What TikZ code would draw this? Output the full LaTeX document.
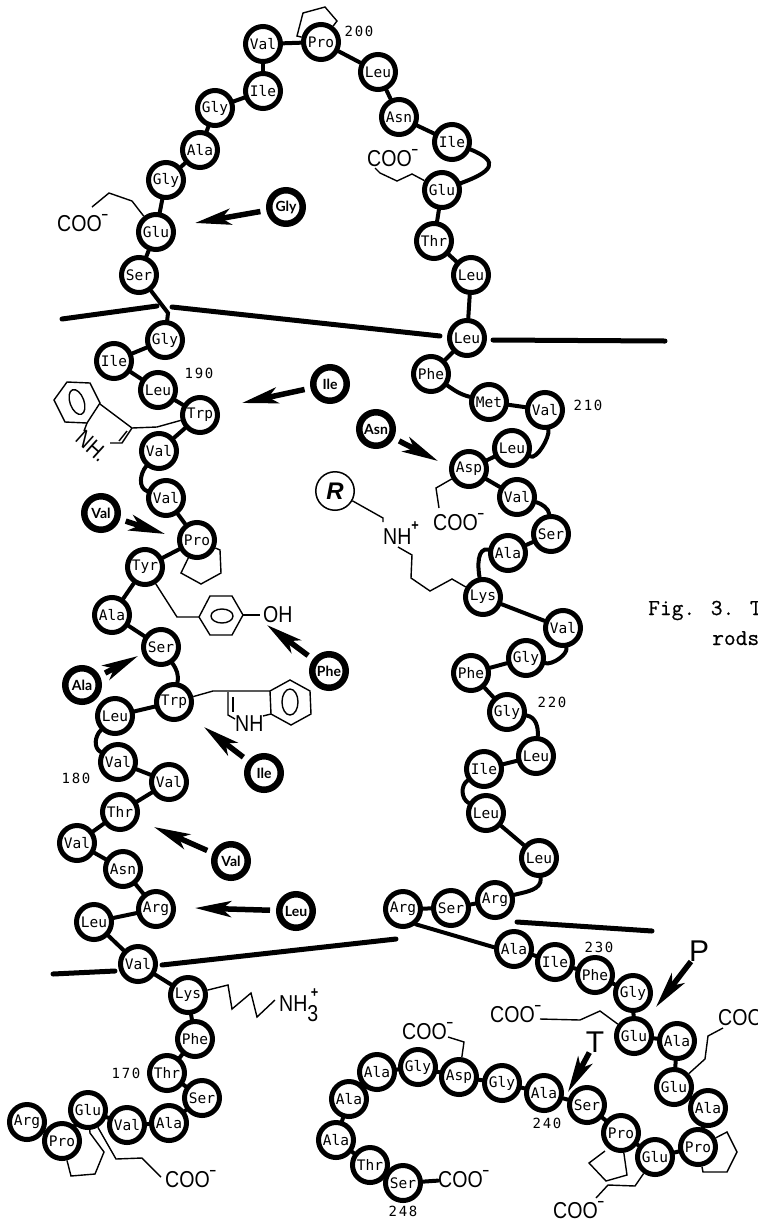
\documentclass[tikz,border=0pt]{standalone}
\usepackage{fontspec}
\setmainfont{Liberation Sans}
\newfontfamily\chemfont[FakeStretch=0.85]{Liberation Sans}
\newfontfamily\aafont{DejaVu Sans Mono}
\newfontfamily\freefont{Lato}
\newfontfamily\numfont[LetterSpace=12]{DejaVu Sans Mono}
\newfontfamily\capfont[FakeBold=0.6]{Latin Modern Mono}
\usetikzlibrary{arrows.meta,backgrounds}
\newcommand{\minusup}{\raisebox{.5em}{\bfseries\fontsize{13}{13}\selectfont −}}
\newcommand{\coolab}{COO\minusup}
\tikzset{
  x=1pt,y=-1pt,
  aa/.style={circle,draw,line width=5pt,fill=white,minimum size=35pt,inner sep=0pt,font=\aafont\fontsize{14.5}{14.5}\selectfont},
  sub/.style={circle,draw,line width=6.5pt,fill=white,minimum size=33.5pt,inner sep=0pt,font=\freefont\bfseries\fontsize{14}{14}\selectfont},
  rgroup/.style={circle,draw,line width=1.5pt,fill=white,minimum size=38.5pt,inner sep=0pt,font=\bfseries\itshape\fontsize{24}{24}\selectfont},
  bond/.style={line width=4pt,line cap=round},
  side/.style={line width=1.4pt,line join=miter},
  wall/.style={line width=5pt,line cap=round},
  mut/.style={line width=5.5pt,-{Stealth[length=36pt,width=16pt,inset=9pt]},shorten <=6pt},
  chem/.style={anchor=base west,inner sep=0pt,font=\chemfont\fontsize{23}{23}\selectfont},
  num/.style={inner sep=0pt,font=\numfont\fontsize{14}{14}\selectfont},
  site/.style={inner sep=0pt,font=\fontsize{30}{30}\selectfont},
  figcap/.style={anchor=base west,inner sep=0pt,font=\capfont\fontsize{22.8}{22.8}\selectfont}
}
\begin{document}
\begin{tikzpicture}
\useasboundingbox (0,0) rectangle (758,1219);
% residues
\foreach \n/\t/\x/\y in {
 r164/Arg/27/1122, r165/Pro/62/1141, r166/Glu/88/1110, r167/Val/127/1125, r168/Ala/169/1123,
 r169/Ser/202/1098, r170/Thr/167/1073, r171/Phe/195/1039, r172/Lys/188/995, r173/Val/138/964,
 r174/Leu/94/922, r175/Arg/156/909, r176/Asn/123/869, r177/Val/77/843, r178/Thr/120/812,
 r179/Val/169/782, r180/Val/118/762, r181/Leu/115/716, r182/Trp/174/702, r183/Ser/161/647,
 r184/Ala/112/615, r185/Tyr/145/567, r186/Pro/197/540, r187/Val/166/498, r188/Val/159/451,
 r189/Trp/200/415, r190/Leu/158/390, r191/Ile/114/361, r192/Gly/165/340, r193/Ser/139/275,
 r194/Glu/156/232, r195/Gly/166/180, r196/Ala/200/150, r197/Gly/215/108, r198/Ile/263/91,
 r199/Val/263/44, r200/Pro/321/42, r201/Leu/378/72, r202/Asn/399/117, r203/Ile/452/142,
 r204/Glu/442/190, r205/Thr/434/241, r206/Leu/471/275, r207/Leu/467/338, r208/Phe/431/374,
 r209/Met/489/402, r210/Val/545/410, r211/Leu/512/448, r212/Asp/469/469, r213/Val/517/497,
 r214/Ser/551/534, r215/Ala/508/553, r216/Lys/483/597, r217/Val/563/628, r218/Gly/526/658,
 r219/Phe/471/673, r220/Gly/507/712, r221/Leu/536/756, r222/Ile/484/769, r223/Leu/486/813,
 r224/Leu/539/858, r225/Arg/495/900, r226/Ser/451/908, r227/Arg/403/909, r228/Ala/514/949,
 r229/Ile/555/962, r230/Phe/595/975, r231/Gly/633/993, r232/Glu/634/1036, r233/Ala/677/1041,
 r234/Glu/674/1087, r235/Ala/708/1108, r236/Pro/698/1147, r237/Glu/655/1157, r238/Pro/621/1133,
 r239/Ser/587/1105, r240/Ala/544/1093, r241/Gly/502/1083, r242/Asp/459/1077, r243/Gly/418/1067,
 r244/Ala/377/1072, r245/Ala/349/1099, r246/Ala/336/1140, r247/Thr/370/1165, r248/Ser/403/1183}
 {\node[aa] (\n) at (\x,\y) {\t};}
% substituted residues
\foreach \n/\t/\x/\y in {
 sGly/Gly/286/207, sIleA/Ile/330/384, sAsn/Asn/376/429, sValA/Val/101/513, sAla/Ala/82/685,
 sPhe/Phe/329/671, sIleB/Ile/264/773, sValB/Val/231/861, sLeu/Leu/296/911}
 {\node[sub] (\n) at (\x,\y) {\t};}
\node[rgroup] (R) at (335,491) {R};
% chemical labels
\node[chem] (cooA) at (57,231) {\coolab};
\node[chem] (cooB) at (367,166) {\coolab};
\node[chem] (cooC) at (433,530) {\coolab};
\node[chem] (cooD) at (165,1187) {\coolab};
\node[chem] (cooE) at (490,1022) {\coolab};
\node[chem] (cooF) at (718,1025) {\coolab};
\node[chem] (cooG) at (402,1039) {\coolab};
\node[chem] (cooH) at (438,1187) {\coolab};
\node[chem] (cooI) at (553,1218) {\coolab};
\node[chem] (nhLys) at (383,544) {NH\raisebox{.6em}{\fontsize{15}{15}\selectfont\bfseries +}};
\node[chem] (oh) at (263,622) {OH};
\node[chem] (nhTrp) at (235,731) {NH};
\node[chem,anchor=center,rotate=-42] (nhTrpB) at (92,446) {NH.};
\node[chem] (nhThree) at (279,1011) {NH\rlap{\raisebox{-.45em}{3}}\raisebox{.6em}{\fontsize{15}{15}\selectfont\bfseries\ +}};
\node[site] (P) at (699,951) {P};
\node[site] (T) at (595,1042) {T};
% residue numbers
\foreach \n/\t/\x/\y in {n170/170/126/1073, n180/180/76/778, n190/190/199/373, n200/200/359/31,
 n210/210/588/405, n220/220/552/702, n230/230/599/947, n240/240/547/1123, n248/248/403/1211}
 {\node[num] (\n) at (\x,\y) {\t};}
\node[figcap] (figA) at (648,615) {Fig. 3. T};
\node[figcap] (figB) at (712,645) {rods};
% tips of the arrows
\foreach \n/\x/\y in {tGly/195/223, tIleA/242/403, tAsn/438/461, tValA/165/534, tAla/138/656,
 tPhe/267/625, tIleB/204/727, tValB/154/827, tLeu/195/908, tP/656/1007, tT/568/1092}
 {\coordinate (\n) at (\x,\y);}
\foreach \a/\b in {sGly/tGly, sIleA/tIleA, sAsn/tAsn, sValA/tValA, sAla/tAla, sPhe/tPhe, sIleB/tIleB, sValB/tValB, sLeu/tLeu}
 {\draw[mut] (\a) -- (\b);}
\draw[mut,shorten <=0pt] (P) -- (tP);
\draw[mut,shorten <=0pt] (T) -- (tT);
% helix boundary lines
\foreach \n/\x/\y in {wA/62/319, wB/157/306, wC/172/307, wD/440/336, wE/493/340, wF/665/341,
 wG/53/974, wH/115/971, wI/162/965, wJ/396/939, wK/517/922, wL/652/931}
 {\coordinate (\n) at (\x,\y);}
\foreach \a/\b in {wA/wB, wC/wD, wE/wF, wG/wH, wI/wJ, wK/wL} {\draw[wall] (\a) -- (\b);}
\begin{scope}[on background layer]
% backbone
\foreach \a/\b in {r164/r165,r165/r166,r166/r167,r167/r168,r168/r169,r169/r170,r170/r171,r171/r172,
 r172/r173,r173/r174,r174/r175,r175/r176,r176/r177,r177/r178,r178/r179,r179/r180,r181/r182,
 r183/r184,r184/r185,r185/r186,r186/r187,r188/r189,r189/r190,r190/r191,r191/r192,r193/r194,
 r194/r195,r195/r196,r196/r197,r197/r198,r198/r199,r199/r200,r200/r201,r201/r202,r202/r203,
 r204/r205,r205/r206,r206/r207,r207/r208,r209/r210,r211/r212,r212/r213,r214/r215,r216/r217,
 r218/r219,r219/r220,r221/r222,r223/r224,r225/r226,r226/r227,r228/r229,r229/r230,
 r230/r231,r231/r232,r232/r233,r233/r234,r234/r235,r235/r236,r236/r237,r237/r238,r238/r239,
 r239/r240,r240/r241,r241/r242,r242/r243,r243/r244,r244/r245,r245/r246,r246/r247,r247/r248}
 {\draw[bond] (\a) -- (\b);}
\draw[bond] (r227.-50) -- (r228.175);
\draw[bond] (r181) to[out=225,in=150] (r180);
\draw[bond] (r183) to[out=-55,in=80] (r182);
\draw[bond] (r188) to[out=230,in=160] (r187);
\draw[bond] (r193) -- (168,313) -- (r192);
\draw[bond] (r203) to[out=-22,in=20,looseness=2.4] (r204);
\draw[bond] (r208) to[out=-35,in=165] (r209);
\draw[bond] (r210) to[out=-80,in=-25,looseness=.6] (r211);
\draw[bond] (r213) to[out=-15,in=95,looseness=.8] (r214);
\draw[bond] (r215) to[out=170,in=100] (r216);
\draw[bond] (r217) to[out=-80,in=-15,looseness=.7] (r218);
\draw[bond] (r220) to[out=-10,in=85] (r221);
\draw[bond] (r222) to[out=215,in=150] (r223);
\draw[bond] (r224) to[out=-85,in=15] (r225);
\draw[bond] (r248) -- (cooH);
% side chains
\draw[side] (r200) -- (297,36) -- (303,13) -- (325,7) -- (337,21) -- (r200);
\draw[side] (r194) -- (132,201) -- (109,193) -- (92,207);
\draw[side] (r204) -- (412,174) -- (397,181) -- (380,173) -- (375,168);
\draw[side] (r189) -- (157,427) -- (132,428) -- (100,404);
\draw[side] (132,428) -- (122,443) -- (110,443);
\draw[side] (127,431) -- (119,441);
\draw[side] (67,382) -- (90,383) -- (100,403) -- (87,423) -- (65,422) -- (54,400) -- cycle;
\draw[side] (87,423) -- (84,431);
\draw[side] (77,402) ellipse[x radius=7,y radius=13,rotate=20];
\draw[side] (r186) -- (220,550) -- (221,573) -- (201,584) -- (181,573) -- (r186);
\draw[side] (r185) -- (177,617) -- (199,617) -- (210,596) -- (232,596) -- (243,615) -- (232,635) -- (210,635) -- (199,617);
\draw[side] (243,615) -- (260,615);
\draw[side] (222,616) ellipse[x radius=11,y radius=7];
\draw[side] (r182) -- (213,691) -- (270,691) -- (290,680) -- (310,691) -- (311,714) -- (291,725) -- (271,714) -- (270,691);
\draw[side] (271,714) -- (263,716);
\draw[side] (228,692) -- (228,715) -- (235,719);
\draw[side] (233,697) -- (233,712);
\draw[side] (290,702) ellipse[x radius=8,y radius=13];
\draw[side] (R) -- (383,518) -- (383,522);
\draw[side] (398,547) -- (412,555) -- (411,578) -- (430,591) -- (452,579) -- (r216);
\draw[side] (r212) -- (436,488) -- (439,508);
\draw[side] (r172) -- (228,985) -- (232,1009) -- (251,993) -- (257,1017) -- (275,1000);
\draw[side] (r165) -- (71,1176) -- (95,1174) -- (104,1152) -- (90,1133) -- (r166);
\draw[side] (r166) -- (116,1159) -- (142,1158) -- (161,1177);
\draw[side] (r232) -- (600,1011) -- (580,1020) -- (540,1019);
\draw[side] (r234) -- (705,1059) -- (708,1036) -- (723,1028);
\draw[side] (r242) -- (464,1042) -- (448,1037);
\draw[side] (r238) -- (627,1175) -- (606,1181) -- (589,1163) -- (605,1151);
\draw[side] (r237) -- (635,1186) -- (608,1185) -- (596,1198);
\draw[side] (r236) -- (727,1132) -- (737,1152) -- (727,1172) -- (703,1172) -- (r236);
\end{scope}
\end{tikzpicture}
\end{document}
